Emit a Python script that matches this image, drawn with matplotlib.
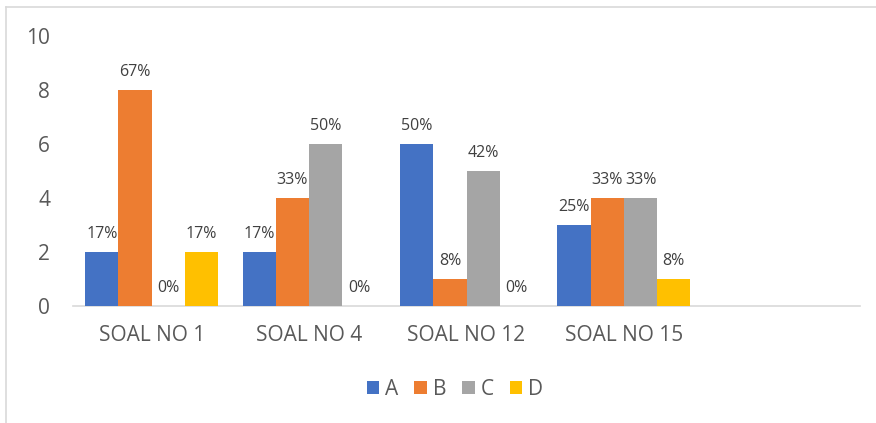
import matplotlib.pyplot as plt
import numpy as np

categories = ["SOAL NO 1", "SOAL NO 4", "SOAL NO 12", "SOAL NO 15", ""]
series_names = ["A", "B", "C", "D"]
series_A = [2, 2, 6, 3]
series_B = [8, 4, 1, 4]
series_C = [0, 6, 5, 4]
series_D = [2, 0, 0, 1]
colors = ["#4472C4", "#ED7D31", "#A5A5A5", "#FFC000"]
yticks = [0, 2, 4, 6, 8, 10]

plt.rcParams['font.family'] = ['Open Sans', 'DejaVu Sans']

fig = plt.figure(figsize=(8.76, 4.23), dpi=100)
# outer chart frame (only left and top edges fall inside the image)
fig.add_artist(plt.Line2D([5.5 / 876, 5.5 / 876], [0, 1 - 7 / 423],
                          transform=fig.transFigure, color="#D9D9D9", lw=1.2))
fig.add_artist(plt.Line2D([5.5 / 876, 1], [1 - 7.5 / 423, 1 - 7.5 / 423],
                          transform=fig.transFigure, color="#D9D9D9", lw=1.2))

ax = fig.add_axes([73 / 876, 1 - 306 / 423, (860 - 73) / 876, (306 - 36) / 423])

all_series = [series_A, series_B, series_C, series_D]
totals = np.sum(all_series, axis=0)
n_groups = len(series_A)
x = np.arange(n_groups)
bw = 0.211
for i, (name, vals) in enumerate(zip(series_names, all_series)):
    pos = x + (i - 1.5) * bw
    ax.bar(pos, vals, width=bw, color=colors[i], label=name, zorder=3)
    for p, v, t in zip(pos, vals, totals):
        ax.annotate(f"{round(100 * v / t):d}%", (p, v), xytext=(0, 7),
                    textcoords="offset points", ha="center", va="bottom",
                    fontsize=11.5, color="#404040")

ax.set_xlim(-0.5, len(categories) - 0.5)
ax.set_ylim(0, 10)
ax.set_yticks(yticks)
ax.set_xticks(np.arange(len(categories)))
ax.set_xticklabels(categories)
ax.tick_params(axis="both", length=0, colors="#595959", labelsize=15)
ax.tick_params(axis="x", pad=14)
ax.tick_params(axis="y", pad=16.5)
for s in ["top", "right", "left"]:
    ax.spines[s].set_visible(False)
ax.spines["bottom"].set_color("#D9D9D9")
ax.spines["bottom"].set_linewidth(1.2)

leg = fig.legend(loc="center", bbox_to_anchor=(455 / 876, 1 - 389 / 423), ncol=4,
                 frameon=False, fontsize=15, handlelength=0.6, handleheight=0.6,
                 handletextpad=0.3, columnspacing=0.75)
for t in leg.get_texts():
    t.set_color("#595959")

fig.savefig("out.png", dpi=100)
